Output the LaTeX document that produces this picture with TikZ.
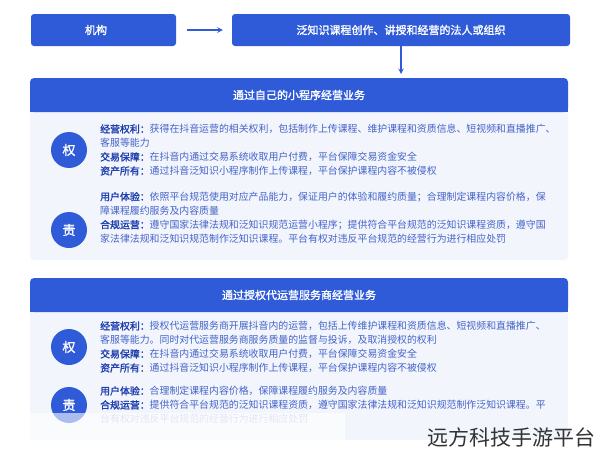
\documentclass[tikz,border=0pt]{standalone}
\usepackage{fontspec}
\setmainfont{Noto Sans CJK SC}
\newfontfamily\cjkb[FakeBold=1.5]{Noto Sans CJK SC}
\definecolor{hb}{HTML}{2F5BD9}
\definecolor{bodyc}{HTML}{F2F5FC}
\definecolor{lab}{HTML}{1F3FAE}
\definecolor{txt}{HTML}{4463C8}
\begin{document}
\begin{tikzpicture}[x=1pt,y=-1pt,
  hbox/.style={fill=hb,rounded corners=3pt,text=white,font=\cjkb\fontsize{11}{13}\selectfont},
  circ/.style={circle,fill=hb,minimum size=36pt,inner sep=0pt,text=white,font=\cjkb\fontsize{13}{15}\selectfont},
  ln/.style={anchor=west,text=txt,font=\fontsize{9.9}{11}\selectfont,inner sep=0pt},
  arr/.style={draw=hb,line width=1.4pt,-stealth}]
\useasboundingbox (0,0) rectangle (600,455);
\fill[white] (0,0) rectangle (600,455);
% top
\node[hbox,minimum width=145pt,minimum height=32pt,align=left,text width=125pt] (org) at (103.5,30) {\hspace*{44pt}机构};
\node[hbox,minimum width=338pt,minimum height=32pt] (tgt) at (401,30) {泛知识课程创作、讲授和经营的法人或组织};
\draw[arr] ([xshift=11pt]org.east) -- ([xshift=-9pt]tgt.west);
\coordinate (d1) at (401,74);
\draw[arr] ([yshift=6pt]tgt.south) -- (d1);
% section 1
\fill[bodyc,rounded corners=4pt] (30,100) rectangle (568,260);
\fill[hb,rounded corners=4pt] (30,78) rectangle (568,112);
\fill[hb] (30,100) rectangle (568,112);
\node[text=white,font=\cjkb\fontsize{11}{13}\selectfont] (h1) at (299,95) {通过自己的小程序经营业务};
\node[circ] (q1) at (69,150) {权};
\node[circ] (z1) at (69,230) {责};
\newcommand{\lb}[1]{{\cjkb\color{lab}#1：}}
\node[ln] (l1) at (100,129) {\lb{经营权利}获得在抖音运营的相关权利，包括制作上传课程、维护课程和资质信息、短视频和直播推广、};
\node[ln] (l2) at (100,143) {客服等能力};
\node[ln] (l3) at (100,157) {\lb{交易保障}在抖音内通过交易系统收取用户付费，平台保障交易资金安全};
\node[ln] (l4) at (100,171) {\lb{资产所有}通过抖音泛知识小程序制作上传课程，平台保护课程内容不被侵权};
\node[ln] (l5) at (100,197) {\lb{用户体验}依照平台规范使用对应产品能力，保证用户的体验和履约质量；合理制定课程内容价格，保};
\node[ln] (l6) at (100,211) {障课程履约服务及内容质量};
\node[ln] (l7) at (100,225) {\lb{合规运营}遵守国家法律法规和泛知识规范运营小程序；提供符合平台规范的泛知识课程资质，遵守国};
\node[ln] (l8) at (100,239) {家法律法规和泛知识规范制作泛知识课程。平台有权对违反平台规范的经营行为进行相应处罚};
% section 2
\fill[bodyc] (30,300) rectangle (568,440);
\fill[hb,rounded corners=4pt] (30,278) rectangle (568,312);
\fill[hb] (30,300) rectangle (568,312);
\node[text=white,font=\cjkb\fontsize{11}{13}\selectfont] (h2) at (299,295) {通过授权代运营服务商经营业务};
\node[circ] (q2) at (69,347) {权};
\node[circ] (z2) at (69,405) {责};
\node[ln] (m1) at (100,326) {\lb{经营权利}授权代运营服务商开展抖音内的运营，包括上传维护课程和资质信息、短视频和直播推广、};
\node[ln] (m2) at (100,340) {客服等能力。同时对代运营服务商服务质量的监督与投诉，及取消授权的权利};
\node[ln] (m3) at (100,354) {\lb{交易保障}在抖音内通过交易系统收取用户付费，平台保障交易资金安全};
\node[ln] (m4) at (100,368) {\lb{资产所有}通过抖音泛知识小程序制作上传课程，平台保护课程内容不被侵权};
\node[ln] (m5) at (100,391) {\lb{用户体验}合理制定课程内容价格，保障课程履约服务及内容质量};
\node[ln] (m6) at (100,405) {\lb{合规运营}提供符合平台规范的泛知识课程资质，遵守国家法律法规和泛知识规范制作泛知识课程。平};
\node[ln,text=txt!40] (m7) at (100,419) {台有权对违反平台规范的经营行为进行相应处罚};
\fill[white,opacity=0.6] (30,413) rectangle (345,455);
\node[anchor=east,text=black!80,font=\fontsize{21}{23}\selectfont] (wm) at (599,437) {远方科技手游平台};
\end{tikzpicture}
\end{document}
